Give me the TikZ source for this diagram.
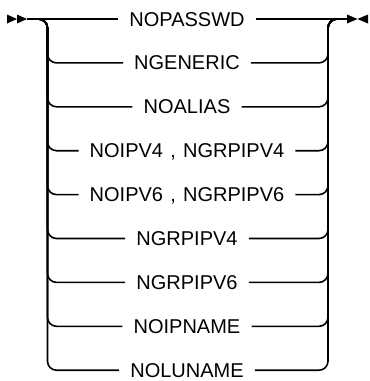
\documentclass[tikz,border=0pt]{standalone}
\usepackage{fontspec}
\setmainfont{Liberation Sans}[WordSpace=1.3]
\begin{document}
\begin{tikzpicture}[x=1pt,y=-1pt,
  kw/.style={inner xsep=11pt,inner ysep=0pt,text height=14pt,text depth=0pt,
    font=\fontsize{20}{22}\selectfont, anchor=center},
  rail/.style={line width=1.6pt,rounded corners=9pt},
  tip/.style={fill=black}]
\useasboundingbox (0,0) rectangle (370,381);
\coordinate (start) at (27,19);
\coordinate (stop) at (347,19);
\foreach \t [count=\i from 0] in {NOPASSWD,NGENERIC,NOALIAS,{NOIPV4 , NGRPIPV4},{NOIPV6 , NGRPIPV6},NGRPIPV4,NGRPIPV6,NOIPNAME,NOLUNAME}{
  \node[kw] (n\i) at (187,{19+43.9*\i}) {\t};
}
\draw[rail] (start) -- (n0.west);
\draw[rail] (n0.east) -- (stop);
\foreach \i in {1,...,8}{
  \draw[rail] (start) -| (47.5,{19+43.9*\i}) -- (n\i.west);
  \draw[rail] (n\i.east) -| (328,19) -- (stop);
}
\fill[tip] (7,14.5) -- (17,19) -- (7,23.5) -- cycle;
\fill[tip] (17,14.5) -- (27,19) -- (17,23.5) -- cycle;
\fill[tip] (347,14.5) -- (357.5,19) -- (347,23.5) -- cycle;
\fill[tip] (368,14.5) -- (357.5,19) -- (368,23.5) -- cycle;
\end{tikzpicture}
\end{document}
